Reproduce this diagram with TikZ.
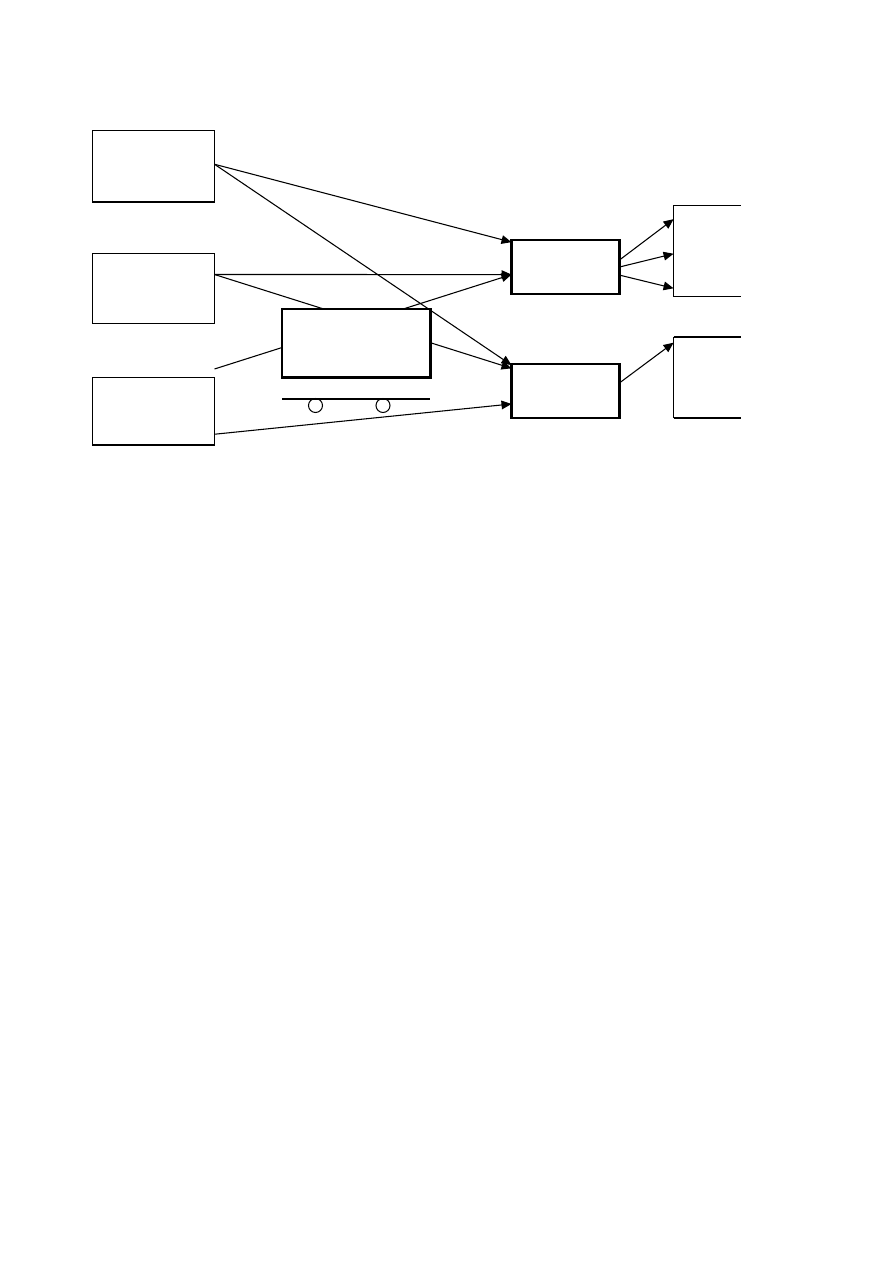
\documentclass[tikz,border=0pt]{standalone}
\usetikzlibrary{arrows.meta,calc}
\tikzset{
  thinbox/.style={draw=black,line width=0.8pt,fill=white,inner sep=0pt,outer sep=0pt,minimum width=91.5pt},
  midbox/.style={draw=black,line width=1.6pt,fill=white,inner sep=0pt,outer sep=0pt,minimum width=81pt,minimum height=40.5pt},
  cartbox/.style={draw=black,line width=2pt,fill=white,inner sep=0pt,outer sep=0pt,minimum width=111.5pt,minimum height=51.5pt},
  openbox/.style={inner sep=0pt,outer sep=0pt,minimum width=50.5pt},
  wheel/.style={circle,draw=black,line width=0.75pt,fill=white,inner sep=0pt,outer sep=0pt,minimum size=10.5pt},
  link/.style={draw=black,line width=0.8pt},
  arrowlink/.style={link,-{Triangle[length=7.5pt,width=6.5pt]}}
}
\begin{document}
\begin{tikzpicture}[x=0.75pt,y=-0.75pt]
\useasboundingbox[fill=white] (0,0) rectangle (893,1263);

% source boxes on the left
\node[thinbox,minimum height=53.6pt] (a) at (153.5,166.4) {};
\node[thinbox,minimum height=52.2pt] (b) at (153.5,288.5) {};
\node[thinbox,minimum height=50.6pt] (c) at (153.5,411.3) {};
\draw[line width=1.5pt] (a.south west) -- (a.south east);
\draw[line width=1.5pt] (c.south west) -- (c.south east);

% middle boxes and the open boxes on the right
\node[midbox] (m1) at (565.5,267) {};
\node[midbox] (m2) at (565.5,391) {};
\node[openbox,minimum height=68.25pt] (r1) at (707.25,251) {};
\node[openbox,minimum height=60.75pt] (r2) at (707.25,377.5) {};
\draw[line width=0.8pt] (r1.north east) -- (r1.north west) -- (r1.south west) -- (r1.south east);
\draw[line width=0.8pt] (r2.south west) -- (r2.north west);
\draw[line width=1.4pt] (r2.north west) -- (r2.north east);
\draw[line width=1.4pt] (r2.south west) -- (r2.south east);

% free ends of the lines that pass behind the cart
\coordinate (bout) at (214.5,274.5);
\coordinate (cout) at (214.5,369);

% connectors into the middle boxes
\draw[arrowlink] ($(a.north east)!0.47!(a.south east)$) -- ($(m1.north west)!0.04!(m1.south west)$);
\draw[arrowlink] ($(a.north east)!0.47!(a.south east)$) -- ($(m2.north west)!0.02!(m2.south west)$);
\draw[arrowlink] (bout) -- ($(m1.north west)!0.64!(m1.south west)$);
\draw[arrowlink] (bout) -- ($(m2.north west)!0.08!(m2.south west)$);
\draw[arrowlink] (cout) -- ($(m1.north west)!0.64!(m1.south west)$);
\draw[arrowlink] ($(c.north east)!0.84!(c.south east)$) -- ($(m2.north west)!0.74!(m2.south west)$);

% connectors into the right-hand boxes
\draw[arrowlink] ($(m1.north east)!0.37!(m1.south east)$) -- ($(r1.north west)!0.15!(r1.south west)$);
\draw[arrowlink] ($(m1.north east)!0.50!(m1.south east)$) -- ($(r1.north west)!0.53!(r1.south west)$);
\draw[arrowlink] ($(m1.north east)!0.65!(m1.south east)$) -- ($(r1.north west)!0.91!(r1.south west)$);
\draw[arrowlink] ($(m2.north east)!0.35!(m2.south east)$) -- ($(r2.north west)!0.07!(r2.south west)$);

% the cart, drawn over the lines that run behind it
\node[cartbox] (cart) at (356.25,343.25) {};
\coordinate (axleL) at (282,399);
\coordinate (axleR) at (430,399);
\node[wheel] (w1) at (315.5,405.5) {};
\node[wheel] (w2) at (383,405.5) {};
\draw[line width=1.5pt] (axleL) -- (axleR);
\end{tikzpicture}
\end{document}
